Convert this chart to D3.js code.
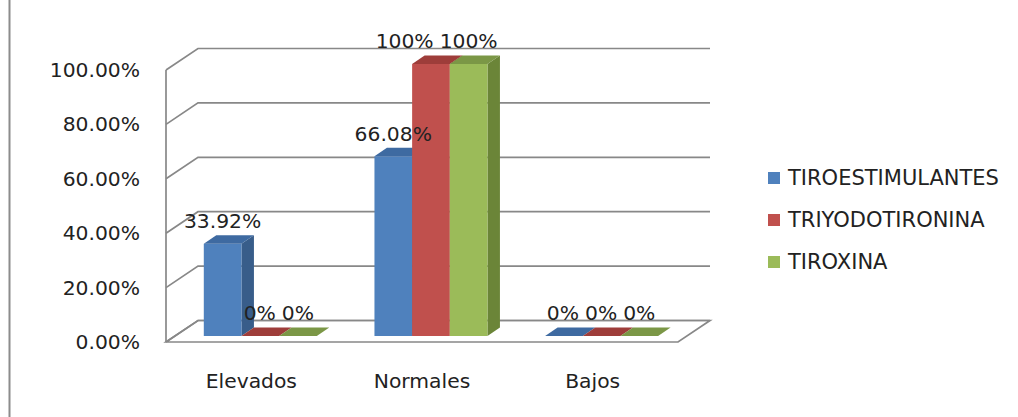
<!DOCTYPE html>
<html><head><meta charset="utf-8">
<script src="https://cdn.jsdelivr.net/npm/d3@7"></script>
<style>
html,body{margin:0;padding:0;background:#fff;}
svg{display:block;}
text{font-family:"DejaVu Sans",Verdana,sans-serif;fill:#222;}
</style></head>
<body><svg id="c" width="1018" height="417"></svg>
<script>
const categories = ["Elevados", "Normales", "Bajos"];
const seriesNames = ["TIROESTIMULANTES", "TRIYODOTIRONINA", "TIROXINA"];
const tiroestimulantes = [0.3392, 0.6608, 0];
const triyodotironina = [0, 1, 0];
const tiroxina = [0, 1, 0];
const dataLabels = [["33.92%", "66.08%", "0%"], ["0%", "100%", "0%"], ["0%", "100%", "0%"]];
const yTicks = [0, 0.2, 0.4, 0.6, 0.8, 1.0];
const yTickLabels = ["0.00%", "20.00%", "40.00%", "60.00%", "80.00%", "100.00%"];

const seriesValues = [tiroestimulantes, triyodotironina, tiroxina];
const colors = [
  {front:"#4f81bd", side:"#385d8a", top:"#3e6aa1"},
  {front:"#c0504d", side:"#8c3836", top:"#9e3d3a"},
  {front:"#9bbb59", side:"#6b8538", top:"#7b9746"}
];

const svg = d3.select("#c");
const DX = 32, DY = 21.5;       // wall depth projection
const z0 = 0.28, z1 = 0.67;     // bar depth fraction
const x = d3.scaleBand().domain(categories).range([166, 678]);
const y = d3.scaleLinear().domain([0, 1]).range([342, 70]);
const groupW = 113;
const xi = d3.scaleBand().domain(d3.range(seriesNames.length))
  .range([(x.bandwidth() - groupW) / 2, (x.bandwidth() + groupW) / 2]);

const P = (px, py, z) => [px + z * DX, py - z * DY];
const grid = "#888888";

// left border
svg.append("line").attr("x1", 9.5).attr("x2", 9.5).attr("y1", 0).attr("y2", 417)
  .attr("stroke", "#8c8c8c").attr("stroke-width", 2);

// gridlines (left wall + back wall)
const x0 = x.range()[0], xEnd = x.range()[1];
yTicks.forEach(t => {
  const a = P(x0, y(t), 0), b = P(x0, y(t), 1), c = P(xEnd, y(t), 1);
  svg.append("path").attr("d", `M${a}L${b}L${c}`).attr("fill", "none")
    .attr("stroke", grid).attr("stroke-width", 1.7);
});
// front-left vertical edge
svg.append("line").attr("x1", x0).attr("x2", x0).attr("y1", y(1)).attr("y2", y(0))
  .attr("stroke", grid).attr("stroke-width", 1.7);
// floor
{
  const a = P(x0, y(0), 0), b = P(xEnd, y(0), 0), c = P(xEnd, y(0), 1), d = P(x0, y(0), 1);
  svg.append("path").attr("d", `M${a}L${b}L${c}L${d}Z`).attr("fill", "none")
    .attr("stroke", grid).attr("stroke-width", 1.7);
}

// y tick labels
svg.selectAll(".yt").data(yTicks).join("text")
  .attr("x", 140).attr("y", d => y(d)).attr("text-anchor", "end")
  .attr("dominant-baseline", "central").attr("font-size", 20.3)
  .text((d, i) => yTickLabels[i]);

// bars
const labels = [];
categories.forEach((cat, ci) => {
  seriesValues.forEach((vals, si) => {
    const v = vals[ci];
    const xl = x(cat) + xi(si), xr = xl + xi.bandwidth();
    const col = colors[si];
    const fbl = P(xl, y(0), z0), fbr = P(xr, y(0), z0);
    const ftl = P(xl, y(v), z0), ftr = P(xr, y(v), z0);
    const btl = P(xl, y(v), z1), btr = P(xr, y(v), z1), bbr = P(xr, y(0), z1);
    svg.append("path").attr("d", `M${fbr}L${ftr}L${btr}L${bbr}Z`).attr("fill", col.side);
    svg.append("path").attr("d", `M${fbl}L${ftl}L${ftr}L${fbr}Z`).attr("fill", col.front);
    svg.append("path").attr("d", `M${ftl}L${ftr}L${btr}L${btl}Z`).attr("fill", col.top);
    labels.push({ci, si, cx: (ftl[0] + ftr[0]) / 2, y: ftl[1] - 15.5, text: dataLabels[si][ci]});
  });
});

// data labels with simple overlap avoidance (shift left)
const fs = 20.3;
const tmp = svg.append("text").attr("font-size", fs).attr("opacity", 0);
labels.forEach(l => { tmp.text(l.text); l.w = tmp.node().getComputedTextLength(); l.x = l.cx - l.w / 2; });
tmp.remove();
for (let i = labels.length - 1; i >= 0; i--) {
  const l = labels[i];
  labels.forEach(o => {
    if (o === l || o.ci !== l.ci || o.si <= l.si) return;
    if (Math.abs(o.y - l.y) < fs && l.x + l.w + 6 > o.x && l.x < o.x) {
      l.x = o.x - 6 - l.w;
    }
  });
}
svg.selectAll(".dl").data(labels).join("text")
  .attr("x", d => d.x).attr("y", d => d.y).attr("font-size", fs)
  .text(d => d.text);

// category labels
svg.selectAll(".cat").data(categories).join("text")
  .attr("x", d => x(d) + x.bandwidth() / 2).attr("y", 381)
  .attr("text-anchor", "middle").attr("dominant-baseline", "central")
  .attr("font-size", 20.3).text(d => d);

// legend
const lg = svg.append("g");
seriesNames.forEach((s, i) => {
  const cy = 178 + i * 42;
  lg.append("rect").attr("x", 768).attr("y", cy - 6).attr("width", 12).attr("height", 12)
    .attr("fill", colors[i].front);
  lg.append("text").attr("x", 788).attr("y", cy).attr("dominant-baseline", "central")
    .attr("font-size", 21).text(s);
});
</script></body></html>
